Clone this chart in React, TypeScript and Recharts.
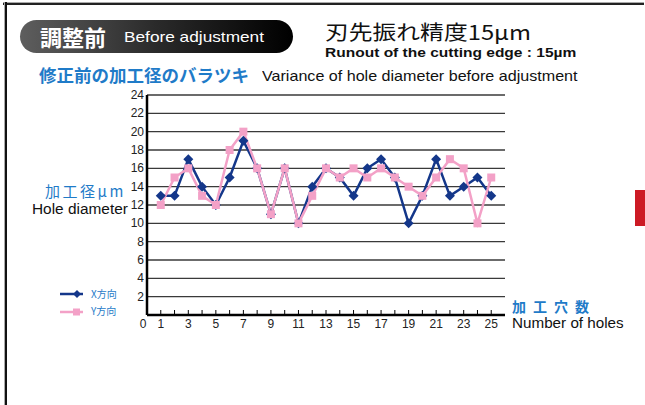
import { LineChart, Line, XAxis, YAxis, CartesianGrid } from 'recharts';

// hole numbers along the x axis
const holes = [1, 2, 3, 4, 5, 6, 7, 8, 9, 10, 11, 12, 13, 14, 15, 16, 17, 18, 19, 20, 21, 22, 23, 24, 25];
// measured diameter variance (µm)
const xDir = [13, 13, 17, 14, 12, 15, 19, 16, 11, 16, 10, 14, 16, 15, 13, 16, 17, 15, 10, 13, 17, 13, 14, 15, 13];
const yDir = [12, 15, 16, 13, 12, 18, 20, 16, 11, 16, 10, 13, 16, 15, 16, 15, 16, 15, 14, 13, 15, 17, 16, 10, 15];

const xTicks = [0, 1, 2, 3, 4, 5, 6, 7, 8, 9, 10, 11, 12, 13, 14, 15, 16, 17, 18, 19, 20, 21, 22, 23, 24, 25];
const yTicks = [0, 2, 4, 6, 8, 10, 12, 14, 16, 18, 20, 22, 24];

const BLUE = '#14378a';
const PINK = '#f3a1c7';
const TEXT_BLUE = '#1f7bc8';
const JP = '"Noto Sans CJK JP", "Liberation Sans", Arial, sans-serif';
const EN = '"Liberation Sans", Arial, sans-serif';

const data = holes.map((n, i) => ({ n, x: xDir[i], y: yDir[i] }));

const Diamond = (props: any) => {
  const { cx, cy } = props;
  if (cx == null || cy == null) return null;
  return (
    <path
      d={`M${cx},${cy - 5} L${cx + 5},${cy} L${cx},${cy + 5} L${cx - 5},${cy} Z`}
      fill={BLUE}
    />
  );
};

const Square = (props: any) => {
  const { cx, cy } = props;
  if (cx == null || cy == null) return null;
  return <rect x={cx - 4} y={cy - 4} width={8} height={8} fill={PINK} />;
};

const HoleTick = (props: any) => {
  const { x, y, payload } = props;
  const v = payload.value;
  const showLabel = v === 0 || v % 2 === 1;
  return (
    <g>
      {v !== 0 && <line x1={x} x2={x} y1={y - 5} y2={y} stroke="#000" strokeWidth={1} />}
      {showLabel && (
        <text
          x={v === 0 ? x - 4 : x}
          y={y + 13}
          textAnchor="middle"
          fontSize={12}
          fontFamily={EN}
          fill="#222"
        >
          {v}
        </text>
      )}
    </g>
  );
};

const DiamTick = (props: any) => {
  const { x, y, payload } = props;
  if (payload.value === 0) return null;
  return (
    <text x={x - 1} y={y + 4} textAnchor="end" fontSize={12} fontFamily={EN} fill="#222">
      {payload.value}
    </text>
  );
};

// absolute text, optionally stretched sideways like the original artwork
const abs = (style: React.CSSProperties, sx = 1): React.CSSProperties => ({
  position: 'absolute',
  whiteSpace: 'nowrap',
  lineHeight: 1,
  transform: sx !== 1 ? `scaleX(${sx})` : undefined,
  transformOrigin: 'left center',
  ...style,
});

export default function App() {
  return (
    <div
      style={{
        position: 'absolute',
        left: 0,
        top: 0,
        width: 645,
        height: 405,
        background: '#fff',
        overflow: 'hidden',
      }}
    >
      {/* frame */}
      <div style={abs({ left: 3, top: 2, width: 641, height: 2, background: '#222', borderTop: '1px solid #aaa' })} />
      <div style={abs({ left: 4, top: 2, width: 2, height: 405, background: '#111', borderLeft: '1px solid #aaa' })} />
      <div style={abs({ left: 635, top: 190, width: 10, height: 36, background: '#cc1a24' })} />

      {/* header pill */}
      <div
        style={abs({
          left: 20,
          top: 20,
          width: 273,
          height: 33,
          borderRadius: 17,
          background: 'linear-gradient(to right, #5e5e5e, #2a2a2a 50%, #000)',
        })}
      />
      <div style={abs({ left: 40, top: 25, fontFamily: JP, fontSize: 22, fontWeight: 700, color: '#fff' })}>
        調整前
      </div>
      <div style={abs({ left: 124, top: 29, fontFamily: EN, fontSize: 15, color: '#fff' }, 1.15)}>
        Before adjustment
      </div>

      <div style={abs({ left: 325, top: 21, fontFamily: JP, fontSize: 20.5, color: '#111' }, 1.16)}>
        刃先振れ精度15μm
      </div>
      <div style={abs({ left: 325, top: 46, fontFamily: EN, fontSize: 13.5, fontWeight: 700, color: '#111' }, 1.15)}>
        Runout of the cutting edge : 15µm
      </div>

      <div style={abs({ left: 39, top: 66, fontFamily: JP, fontSize: 17.5, fontWeight: 700, color: TEXT_BLUE })}>
        修正前の加工径のバラツキ
      </div>
      <div style={abs({ left: 262, top: 69, fontFamily: EN, fontSize: 14.5, color: '#111' }, 1.11)}>
        Variance of hole diameter before adjustment
      </div>

      {/* axis titles */}
      <div style={abs({ left: 45, top: 183, fontFamily: JP, fontSize: 15, color: TEXT_BLUE, letterSpacing: 2.5 })}>
        加工径μm
      </div>
      <div style={abs({ left: 32, top: 202, fontFamily: EN, fontSize: 14, color: '#111' }, 1.1)}>
        Hole diameter
      </div>
      <div style={abs({ left: 512, top: 299, fontFamily: JP, fontSize: 14, fontWeight: 700, color: TEXT_BLUE, letterSpacing: 7 })}>
        加工穴数
      </div>
      <div style={abs({ left: 512, top: 316, fontFamily: EN, fontSize: 14.5, color: '#111' }, 1.05)}>
        Number of holes
      </div>

      {/* legend */}
      <svg style={abs({ left: 55, top: 285 })} width={35} height={35}>
        <line x1={5} x2={28} y1={9} y2={9} stroke={BLUE} strokeWidth={2.5} />
        <path d="M22,5 L26,9 L22,13 L18,9 Z" fill={BLUE} />
        <line x1={5} x2={28} y1={27} y2={27} stroke={PINK} strokeWidth={2.5} />
        <rect x={18} y={23.5} width={7} height={7} fill={PINK} />
      </svg>
      <div style={abs({ left: 91, top: 289, fontFamily: JP, fontSize: 10, color: TEXT_BLUE })}>X方向</div>
      <div style={abs({ left: 91, top: 306, fontFamily: JP, fontSize: 10, color: TEXT_BLUE })}>Y方向</div>

      <div style={abs({ left: 0, top: 0 })}>
        <LineChart
          width={645}
          height={405}
          data={data}
          margin={{ top: 95, right: 140, bottom: 70, left: 107 }}
        >
          <CartesianGrid horizontal vertical={false} stroke="#3a3a3a" strokeWidth={1.3} />
          <XAxis
            type="number"
            dataKey="n"
            domain={[0, 26]}
            ticks={xTicks}
            interval={0}
            height={20}
            tickSize={0}
            tickMargin={0}
            tick={<HoleTick />}
            axisLine={{ stroke: '#000', strokeWidth: 2.5 }}
            tickLine={false}
          />
          <YAxis
            type="number"
            domain={[0, 24]}
            ticks={yTicks}
            interval={0}
            width={40}
            tickSize={0}
            tickMargin={2}
            tick={<DiamTick />}
            axisLine={{ stroke: '#000', strokeWidth: 2.5 }}
            tickLine={false}
          />
          <Line
            dataKey="x"
            stroke={BLUE}
            strokeWidth={2.5}
            dot={<Diamond />}
            activeDot={false}
            isAnimationActive={false}
          />
          <Line
            dataKey="y"
            stroke={PINK}
            strokeWidth={2.5}
            dot={<Square />}
            activeDot={false}
            isAnimationActive={false}
          />
        </LineChart>
      </div>
    </div>
  );
}
